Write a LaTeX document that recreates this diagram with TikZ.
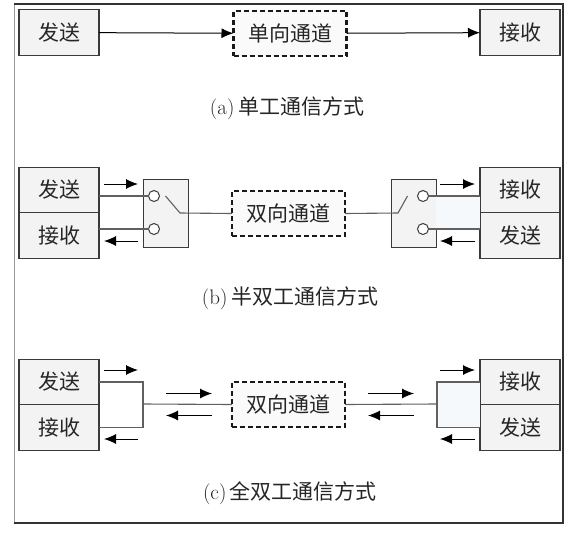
\documentclass[tikz,border=0pt]{standalone}
\usepackage{fontspec}
\usetikzlibrary{positioning}
\usetikzlibrary{arrows.meta}
\newfontfamily\cjk{Noto Sans CJK SC}
\definecolor{boxfill}{HTML}{F3F3F3}
\definecolor{boxline}{HTML}{3A3A3A}
\definecolor{wirecol}{HTML}{606060}
\definecolor{tint}{HTML}{F6F9FC}
\tikzset{>={Latex[length=12pt,width=10pt]}}
\tikzset{unit/.style={draw=boxline, line width=1.1pt, fill=boxfill, minimum width=80pt, minimum height=45.5pt, inner sep=0pt, outer sep=0pt, text=black!85, font=\cjk\fontsize{21}{21}\selectfont}}
\tikzset{chan/.style={draw=black!90, line width=2.2pt, dash pattern=on 5pt off 3pt, fill=black!2, minimum width=113pt, minimum height=45pt, inner sep=0pt, outer sep=0pt, text=black!85, font=\cjk\fontsize{21}{21}\selectfont}}
\tikzset{switch/.style={draw=boxline, line width=1pt, fill=boxfill, minimum width=45pt, minimum height=68pt, outer sep=0pt}}
\tikzset{port/.style={draw=boxline, line width=1pt, circle, minimum size=11pt, inner sep=0pt, outer sep=0pt, fill=white}}
\tikzset{wire/.style={draw=wirecol, line width=1.1pt}}
\tikzset{sig/.style={draw=black, line width=1pt, ->}}
\tikzset{caption/.style={text=black!85, font=\fontsize{21}{21}\selectfont}}

\begin{document}
\begin{tikzpicture}[x=1pt, y=-1pt]
    \useasboundingbox (0,0) rectangle (574,536);
    \fill[white] (0,0) rectangle (574,536);
    \draw[black!40, line width=1pt] (14,523) -- (14,4);
    \draw[black!80, line width=1.2pt] (14,4) -- (563,4) -- (563,523) -- (14,523);

    \node[unit] (txa) at (59,32.5) {发送};
    \node[chan] (cha) at (290,33.5) {单向通道};
    \node[unit] (rxa) at (520,32.5) {接收};
    \node[caption] (capa) at (287,108) {(a)\,\cjk 单工通信方式};

    \draw[sig] (txa) -- (cha);
    \draw[sig] (cha) -- (rxa);

    \node[unit] (txb) at (59,190) {发送};
    \node[unit, below=0pt of txb] (rxb) {接收};
    \node[switch] (swl) at (165.5,213) {};
    \node[port] (pl1) at (154,196) {};
    \node[port] (pl2) at (154,229) {};
    \node[chan] (chb) at (288.5,213.5) {双向通道};
    \node[switch] (swr) at (413.5,213) {};
    \node[port] (pr1) at (423,196) {};
    \node[port] (pr2) at (423,229) {};
    \node[unit] (rxb2) at (520,190) {接收};
    \node[unit, below=0pt of rxb2] (txb2) {发送};
    \node[caption] (capb) at (290,298) {(b)\,\cjk 半双工通信方式};

    \fill[tint] (swr.east |- pr1) rectangle (txb2.west |- pr2);
    \draw[wire] (txb.east |- pl1) -- (pl1);
    \draw[wire] (rxb.east |- pl2) -- (pl2);
    \draw[wire] ([xshift=6pt]pl1.east) -- ([xshift=-8pt]swl.east) -- (chb.west);
    \draw[wire] (chb.east) -- ([xshift=7pt]swr.west) -- ([xshift=-10pt]pr1.west);
    \draw[wire] (pr1) -- (rxb2.west |- pr1);
    \draw[wire] (pr2) -- (txb2.west |- pr2);
    \draw[sig] ([xshift=5pt,yshift=6pt]txb.east) -- ++(34,0);
    \draw[sig] ([xshift=39pt,yshift=-5.5pt]rxb.east) -- ++(-34,0);
    \draw[sig] ([xshift=-40pt,yshift=6pt]rxb2.west) -- ++(35,0);
    \draw[sig] ([xshift=-5pt,yshift=-5.5pt]txb2.west) -- ++(-35,0);

    \node[unit] (txc) at (59,382) {发送};
    \node[unit, below=0pt of txc] (rxc) {接收};
    \coordinate (jl) at (143,404);
    \node[chan] (chc) at (288.5,404.5) {双向通道};
    \coordinate (jr) at (437,404);
    \node[unit] (rxc2) at (520,382) {接收};
    \node[unit, below=0pt of rxc2] (txc2) {发送};
    \node[caption] (capc) at (290,493) {(c)\,\cjk 全双工通信方式};

    \fill[tint] (jr |- rxc2.west) rectangle (txc2.west);
    \draw[wire] (txc.east) -| (jl) |- (rxc.east);
    \draw[wire] (jl) -- (chc.west);
    \draw[wire] (rxc2.west) -| (jr) |- (txc2.west);
    \draw[wire] (chc.east) -- (jr);
    \draw[sig] ([xshift=5pt,yshift=12pt]txc.east) -- ++(34,0);
    \draw[sig] ([xshift=39pt,yshift=-11.5pt]rxc.east) -- ++(-34,0);
    \draw[sig] ([xshift=23pt,yshift=10.5pt]jl) -- ++(46,0);
    \draw[sig] ([xshift=69pt,yshift=-11.5pt]jl) -- ++(-46,0);
    \draw[sig] ([xshift=-69pt,yshift=10.5pt]jr) -- ++(46,0);
    \draw[sig] ([xshift=-23pt,yshift=-11.5pt]jr) -- ++(-46,0);
    \draw[sig] ([xshift=-40pt,yshift=12pt]rxc2.west) -- ++(35,0);
    \draw[sig] ([xshift=-5pt,yshift=-11.5pt]txc2.west) -- ++(-35,0);
\end{tikzpicture}
\end{document}
